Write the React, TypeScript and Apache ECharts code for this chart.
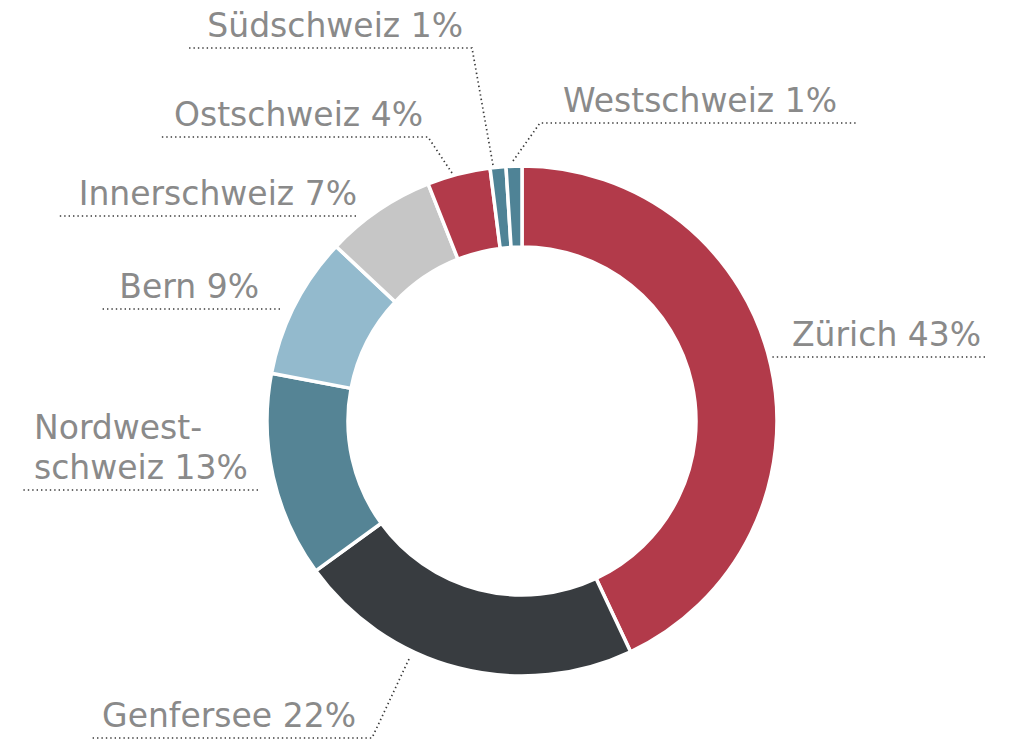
import React, { useEffect, useRef } from "react";
import * as echarts from "echarts";

const regions = ["Zürich", "Genfersee", "Nordwestschweiz", "Bern", "Innerschweiz", "Ostschweiz", "Südschweiz", "Westschweiz"];
const labelNames = ["Zürich", "Genfersee", "Nordwest-\nschweiz", "Bern", "Innerschweiz", "Ostschweiz", "Südschweiz", "Westschweiz"];
const shares = [43, 22, 13, 9, 7, 4, 1, 1];
const colors = ["#b23a4a", "#383c40", "#558495", "#93bacd", "#c6c6c6", "#b23a4a", "#4f8396", "#4f8396"];

// label layout: text anchor (x = text edge, y = underline), underline span, optional leader start
type LabelPos = { align: "left" | "right"; x: number; lineY: number; lineFrom: number; lineTo: number; leader?: [number, number] };
const labelPos: LabelPos[] = [
  { align: "left", x: 792, lineY: 357, lineFrom: 775, lineTo: 985, leader: [768, 357] },
  { align: "right", x: 356, lineY: 738, lineFrom: 372, lineTo: 90, leader: [409, 659] },
  { align: "left", x: 34, lineY: 490, lineFrom: 258, lineTo: 22 },
  { align: "right", x: 259, lineY: 309, lineFrom: 280, lineTo: 100 },
  { align: "right", x: 357, lineY: 216, lineFrom: 356, lineTo: 57 },
  { align: "right", x: 423, lineY: 137, lineFrom: 428, lineTo: 160, leader: [452, 173] },
  { align: "right", x: 463, lineY: 48, lineFrom: 472, lineTo: 187, leader: [493, 165] },
  { align: "left", x: 563, lineY: 123, lineFrom: 540, lineTo: 856, leader: [513, 161] },
];

export default function App() {
  const ref = useRef<HTMLDivElement>(null);
  useEffect(() => {
    document.body.style.margin = "0";
    const chart = echarts.init(ref.current!, null, { renderer: "svg" });
    chart.setOption({
      animation: false,
      backgroundColor: "#ffffff",
      series: [
        {
          type: "pie",
          center: [522, 421],
          radius: [174, 255],
          startAngle: 90,
          clockwise: true,
          avoidLabelOverlap: false,
          itemStyle: { borderColor: "#ffffff", borderWidth: 3.5 },
          label: {
            show: true,
            color: "#8a8a8a",
            fontFamily: "DejaVu Sans",
            fontSize: 33,
            lineHeight: 40,
            formatter: (p: any) => `${labelNames[p.dataIndex]} ${shares[p.dataIndex]}%`,
          },
          labelLine: {
            show: true,
            smooth: false,
            lineStyle: { color: "#3a3a3a", width: 1.7, type: [1.4, 3.0] },
          },
          labelLayout: (params: any) => {
            const l = labelPos[params.dataIndex];
            const start = l.leader ?? [l.lineFrom, l.lineY];
            return {
              x: l.x,
              y: l.lineY - 3,
              align: l.align,
              verticalAlign: "bottom",
              labelLinePoints: [start, [l.lineFrom, l.lineY], [l.lineTo, l.lineY]],
            };
          },
          data: regions.map((name, i) => ({
            name,
            value: shares[i],
            itemStyle: { color: colors[i] },
            label: { align: labelPos[i].align },
          })),
        },
      ],
    });
    return () => chart.dispose();
  }, []);
  return <div ref={ref} style={{ width: 1020, height: 741 }} />;
}
